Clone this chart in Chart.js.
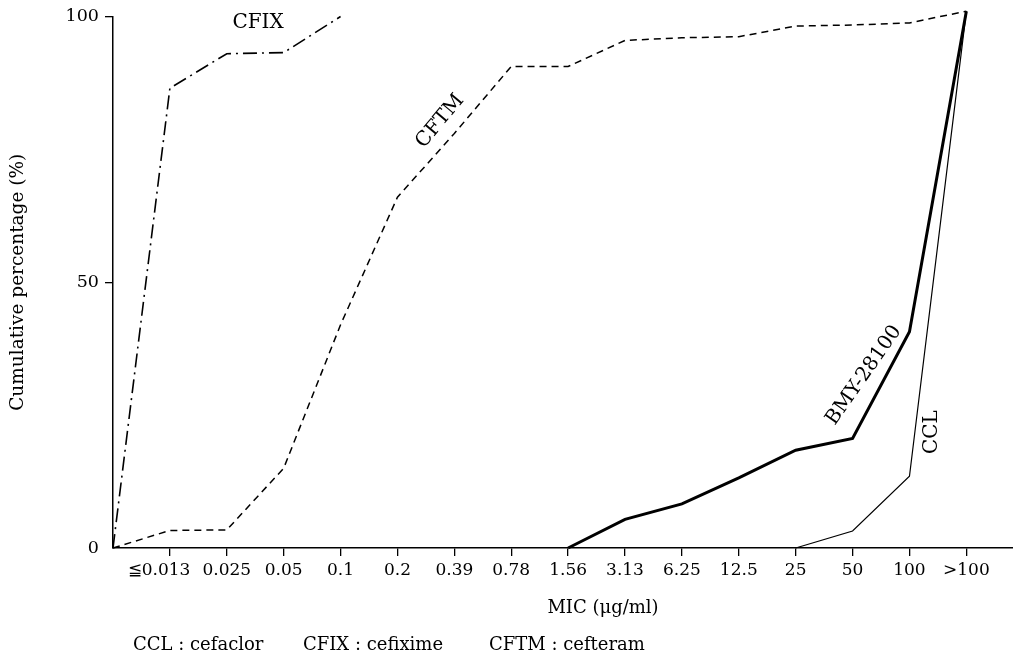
<!DOCTYPE html>
<html>
<head>
<meta charset="utf-8">
<script src="https://cdn.jsdelivr.net/npm/chart.js@4.4.0/dist/chart.umd.min.js"></script>
<style>
  html, body { margin: 0; padding: 0; background: #fff; }
  #wrap { width: 1013px; height: 657px; }
</style>
</head>
<body>
<div id="wrap"><canvas id="micChart" width="1013" height="657"></canvas></div>
<script>
//-------------------------------------------------------------
// Data (x positions = MIC steps, index 0 = origin)
//-------------------------------------------------------------
const micLabels = ["", "≦0.013", "0.025", "0.05", "0.1", "0.2", "0.39", "0.78",
  "1.56", "3.13", "6.25", "12.5", "25", "50", "100", ">100"];
const yTicks = [0, 50, 100];

const cfix = [0, 86.5, 93, 93.2, 100];
const cftm = [0, 3.3, 3.4, 15, 42, 66, 78, 90.6, 90.6, 95.5, 96, 96.2, 98.2, 98.4, 98.8, 101];
const bmy = [null, null, null, null, null, null, null, null, 0, 5.4, 8.3, 13.2, 18.4, 20.6, 40.7, 101];
const ccl = [null, null, null, null, null, null, null, null, null, null, null, null, 0, 3.2, 13.5, 101];

const FONT = "'DejaVu Serif', 'Liberation Serif', serif";

function toPoints(arr) {
  return arr.map((v, i) => ({ x: i, y: v }));
}

//-------------------------------------------------------------
// Text labels drawn on the canvas
//-------------------------------------------------------------
const labelPlugin = {
  id: "labels",
  afterDraw(chart) {
    const { ctx, scales } = chart;
    const x = scales.x, y = scales.y;
    ctx.save();
    ctx.fillStyle = "#000";
    ctx.textAlign = "center";
    ctx.textBaseline = "middle";

    const put = (text, xv, yv, angle, size) => {
      ctx.save();
      ctx.translate(x.getPixelForValue(xv), y.getPixelForValue(yv));
      ctx.rotate(angle * Math.PI / 180);
      ctx.font = `${size}px ${FONT}`;
      ctx.fillText(text, 0, 0);
      ctx.restore();
    };
    put("CFIX", 2.55, 98.9, 0, 20);
    put("CFTM", 5.75, 80.3, -50, 20);
    put("BMY-28100", 13.2, 32.5, -55, 20);
    put("CCL", 14.4, 21.8, -90, 20);

    // axis titles
    ctx.font = `18.5px ${FONT}`;
    ctx.save();
    ctx.translate(18, (y.top + y.bottom) / 2);
    ctx.rotate(-Math.PI / 2);
    ctx.fillText("Cumulative percentage (%)", 0, 0);
    ctx.restore();
    ctx.font = `18px ${FONT}`;
    ctx.fillText("MIC (μg/ml)", 603, 608);

    // footnote
    ctx.textAlign = "left";
    ctx.fillText("CCL : cefaclor", 133, 645);
    ctx.fillText("CFIX : cefixime", 303, 645);
    ctx.fillText("CFTM : cefteram", 489, 645);
    ctx.restore();
  },
};

//-------------------------------------------------------------
// Chart
//-------------------------------------------------------------
const line = (label, data, width, dash) => ({
  label,
  data: toPoints(data),
  borderColor: "#000",
  borderWidth: width,
  borderDash: dash,
  pointRadius: 0,
  tension: 0,
  fill: false,
  clip: false,
  spanGaps: false,
});

new Chart(document.getElementById("micChart"), {
  type: "line",
  data: {
    datasets: [
      line("CFIX", cfix, 1.6, [14, 5, 2, 5]),
      line("CFTM", cftm, 1.5, [7, 5]),
      line("BMY-28100", bmy, 3, []),
      line("CCL", ccl, 1.2, []),
    ],
  },
  options: {
    responsive: false,
    animation: false,
    layout: { padding: { top: 15, right: 0, left: 0, bottom: 0 } },
    plugins: { legend: { display: false }, tooltip: { enabled: false } },
    scales: {
      x: {
        type: "linear",
        min: 0,
        max: 15.82,
        afterBuildTicks: (s) => { s.ticks = micLabels.slice(1).map((_, i) => ({ value: i + 1 })); },
        afterFit: (s) => { s.height = 109; },
        ticks: {
          color: "#000",
          font: { family: FONT, size: 17 },
          padding: 4,
          maxRotation: 0,
          autoSkip: false,
          // the "≦" hangs left of the tick, as in the original
          callback: (v) => (v === 1 ? micLabels[v] + "    " : micLabels[v]),
        },
        grid: { display: true, drawOnChartArea: false, drawTicks: true, tickLength: 8, color: "#000", lineWidth: 1.3 },
        border: { display: true, color: "#000", width: 1.5 },
      },
      y: {
        min: 0,
        max: 100,
        afterBuildTicks: (s) => { s.ticks = yTicks.map((v) => ({ value: v })); },
        afterFit: (s) => { s.width = 113; },
        ticks: {
          color: "#000",
          font: { family: FONT, size: 17.5 },
          padding: 6,
        },
        grid: {
          display: true, drawOnChartArea: false, drawTicks: true, tickLength: 8,
          color: (c) => (c.tick && c.tick.value === 0 ? "rgba(0,0,0,0)" : "#000"),
          lineWidth: 1.3,
        },
        border: { display: true, color: "#000", width: 1.5 },
      },
    },
  },
  plugins: [labelPlugin],
});
</script>
</body>
</html>
